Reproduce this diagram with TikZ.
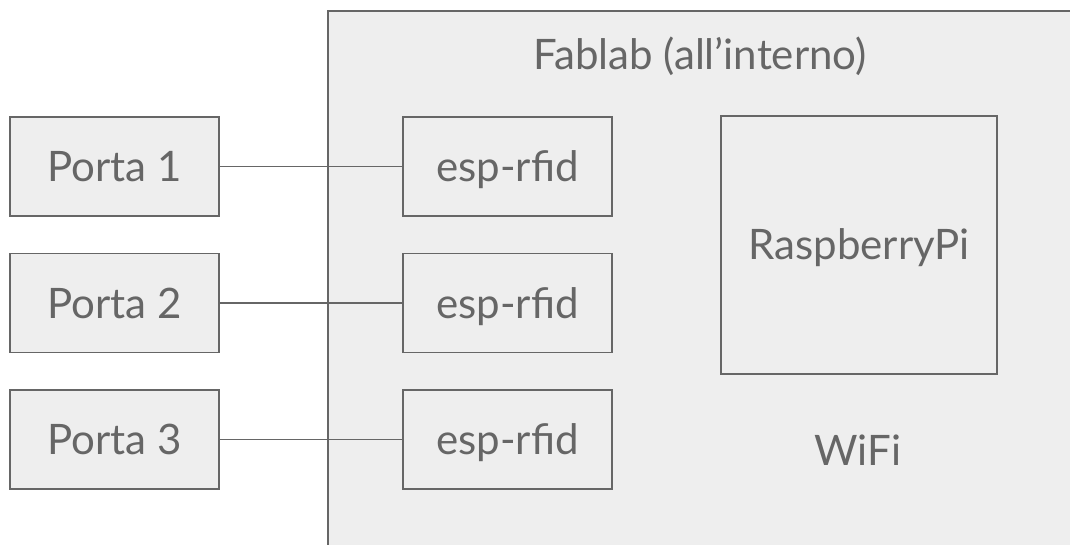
\documentclass[tikz,border=0pt]{standalone}
\usepackage{fontspec}
\setmainfont{Lato}
\definecolor{bordo}{HTML}{666666}
\definecolor{fondo}{HTML}{EEEEEE}
\tikzset{
 scatola/.style={draw=bordo,fill=fondo,line width=1.8pt,text=bordo,
  minimum width=209pt,minimum height=99pt,inner sep=0pt,
  text height=30pt,text depth=0pt,
  font=\fontsize{42}{50}\selectfont},
 sala/.style={draw=bordo,fill=fondo,line width=2pt,
  minimum width=900pt,minimum height=600pt,inner sep=0pt},
 testo/.style={text=bordo,inner sep=0pt,text height=30pt,text depth=0pt,
  font=\fontsize{42}{50}\selectfont},
 linea/.style={draw=bordo,line width=1.8pt}
}
\begin{document}
\begin{tikzpicture}[x=1pt,y=-1pt]
 \useasboundingbox (0,0) rectangle (1070,545);
 \clip (0,0) rectangle (1070,545);
 \node[sala,anchor=north west] (fablab) at (327,10) {};
 \node[testo] (titolo) at (700,55) {Fablab (all’interno)};
 %porte e lettori
 \foreach \n/\y in {1/166.5,2/303,3/439.5}{
  \node[scatola] (porta\n) at (114.5,\y) {Porta \n};
  \node[scatola] (esp\n) at (507.5,\y) {esp-rfid};
  \draw[linea] (porta\n) -- (esp\n);
 }
 \node[scatola,minimum width=276pt,minimum height=258pt] (rpi) at (859,245) {RaspberryPi};
 \node[testo] (wifi) at (858,450.5) {WiFi};
\end{tikzpicture}
\end{document}
